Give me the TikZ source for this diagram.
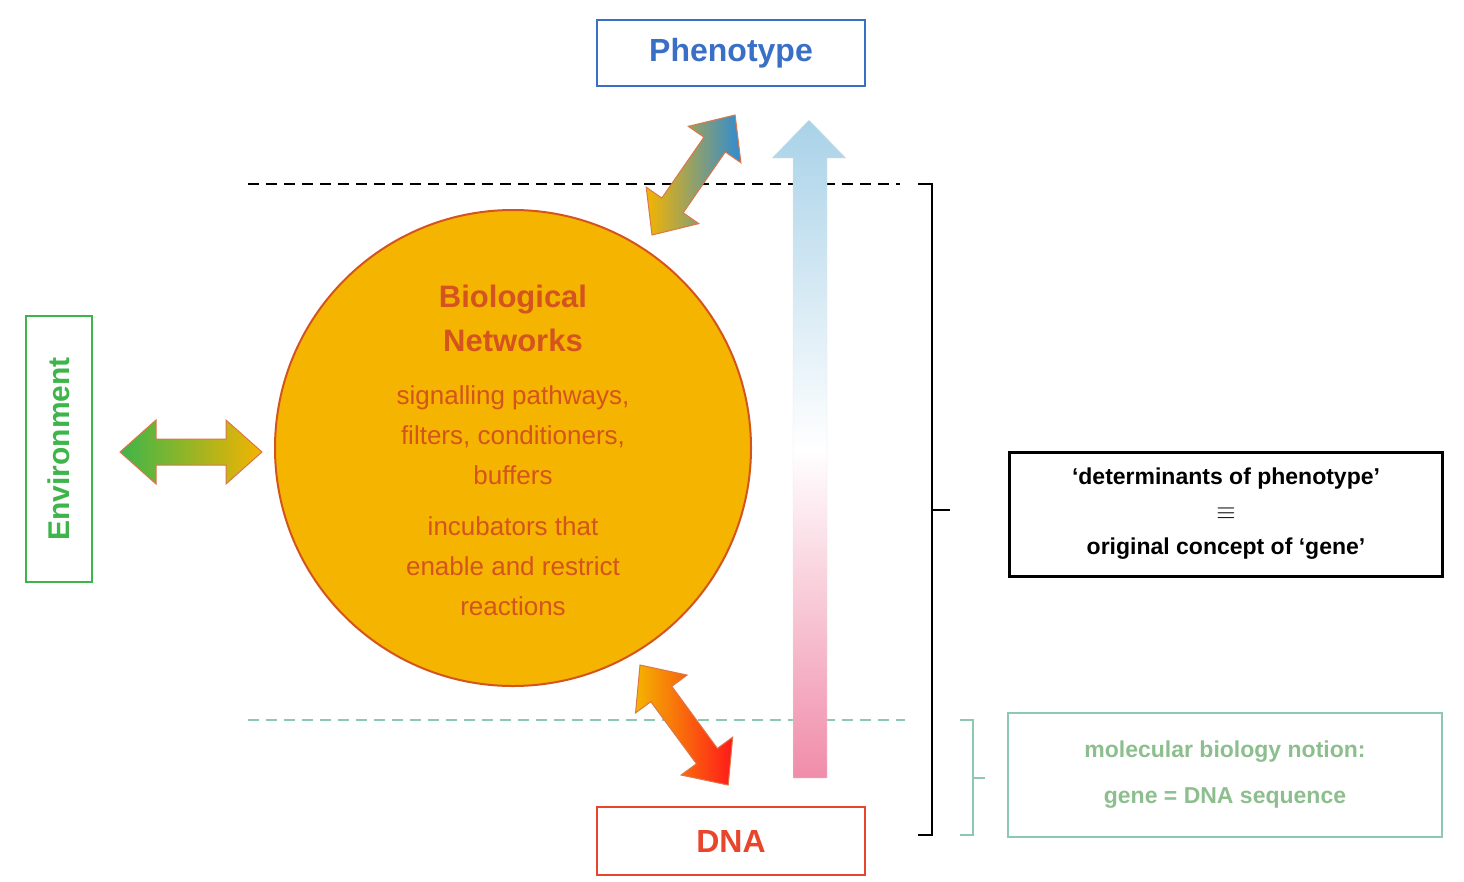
\documentclass[tikz,border=0pt]{standalone}
\usepackage{fontspec}
\setmainfont{Liberation Sans}
\newcommand\dblarrow[4]{% start, angle, length, style
  \path[#4,shift={#1},rotate=#2] (0,0) -- (36,-32) -- (36,-13) -- (#3-36,-13) -- (#3-36,-32) -- (#3,0) -- (#3-36,32) -- (#3-36,13) -- (36,13) -- (36,32) -- cycle;}
\begin{document}
\begin{tikzpicture}[x=1pt,y=-1pt,
  lab/.style={font=\bfseries, align=center}]
\definecolor{blu}{HTML}{3A6FC8}\definecolor{rd}{HTML}{E8452C}\definecolor{grn}{HTML}{3DB54A}
\definecolor{orn}{HTML}{F4B400}\definecolor{ttx}{HTML}{D3541E}\definecolor{tea}{HTML}{8CC9B0}\definecolor{teat}{HTML}{8DBE8E}
\definecolor{lb}{HTML}{A9D2E8}\definecolor{pk}{HTML}{F08CAA}
\useasboundingbox (0,0) rectangle (1464,881);
\node[draw=blu,line width=2pt,minimum width=268,minimum height=66,text=blu,font=\bfseries\fontsize{32}{36}\selectfont] (ph) at (731,53) {Phenotype};
\node[draw=rd,line width=2pt,minimum width=268,minimum height=68,text=rd,font=\bfseries\fontsize{32}{36}\selectfont] (dna) at (731,841) {DNA};
\node[draw=grn,line width=2pt,minimum width=266,minimum height=66,text=grn,rotate=90,font=\bfseries\fontsize{30}{34}\selectfont] (env) at (59,449) {Environment};
\draw[dashed,line width=2.5pt,dash pattern=on 11pt off 7pt] (248,184) coordinate (d1) -- (900,184) coordinate (d2);
\draw[tea,line width=2pt,dash pattern=on 11pt off 7pt] (248,720) coordinate (t1) -- (905,720) coordinate (t2);
\node[circle,draw=ttx,line width=2pt,fill=orn,minimum size=476] (c) at (513,448) {};
\node[lab,text=ttx,font=\bfseries\fontsize{31}{44}\selectfont] at (513,318) {Biological\\Networks};
\node[align=center,text=ttx,font=\fontsize{26}{40}\selectfont] at (513,435) {signalling pathways,\\filters, conditioners,\\buffers};
\node[align=center,text=ttx,font=\fontsize{26}{40}\selectfont] at (513,566) {incubators that\\enable and restrict\\reactions};
\shade[top color=lb,bottom color=pk,middle color=white,draw=white!80!gray]
 (793,778) -- (793,158) -- (772,158) -- (809,120) -- (846,158) -- (827,158) -- (827,778) -- cycle;
\dblarrow{(120,452)}{0}{142}{left color=grn,right color=orn,draw=ttx!80,line width=1pt}
\dblarrow{(652,235)}{55.3}{146}{left color=orn,right color=blu!80!cyan,draw=ttx!80,line width=1pt}
\dblarrow{(640,665)}{-53.7}{149}{left color=orn,right color=red!90,draw=ttx!80,line width=1pt}
\draw[line width=2.5pt] (918,184) -- (932,184) -- (932,835) -- (918,835) (932,510) -- (950,510);
\draw[tea,line width=2pt] (960,720) -- (973,720) -- (973,835) -- (960,835) (973,778) -- (985,778);
\node[draw,line width=3pt,minimum width=433,minimum height=124,align=center,font=\bfseries\fontsize{23}{35}\selectfont] (b1) at (1226,514) {`determinants of phenotype'\\{\fontsize{30}{30}\selectfont$\equiv$}\\original concept of `gene'};
\node[draw=tea,line width=2pt,minimum width=434,minimum height=124,align=center,text=teat,font=\bfseries\fontsize{23}{46}\selectfont] (b2) at (1225,775) {molecular biology notion:\\gene = DNA sequence};
\end{tikzpicture}
\end{document}
